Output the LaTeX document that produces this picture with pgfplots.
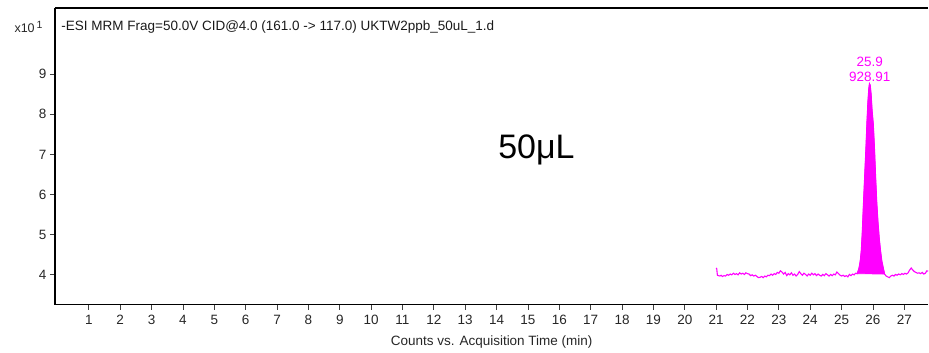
\documentclass[border=0pt]{standalone}
\usepackage{pgfplots}
\pgfplotsset{compat=1.18}
\usepackage{fontspec}
\setmainfont{Liberation Sans}
\definecolor{pk}{HTML}{FF00FF}
\begin{document}
\begin{tikzpicture}
\path (-55pt,-48pt) rectangle (874pt,305pt);
\begin{axis}[
  at={(0,0)}, anchor=south west,
  scale only axis, width=874pt, height=297pt,
  xmin=-0.08, xmax=27.765, ymin=3.254, ymax=10.65,
  axis x line*=bottom, axis y line*=left,
  axis line style={black, line width=1.4pt, -},
  xtick={1,...,27}, ytick={4,...,9},
  tick align=outside, major tick length=5pt,
  tick style={black!75, line width=0.8pt},
  /pgf/number format/assume math mode=true,
  ticklabel style={font=\fontsize{13.5}{15}\selectfont, text=black!85},
  xticklabel style={yshift=-2pt},
  xlabel={Counts vs. Acquisition Time (min)},
  xlabel style={font=\fontsize{13.5}{15}\selectfont, at={(0.5,0)}, yshift=-27pt, anchor=north, text=black!85},
  clip=true,
]
\addplot[draw=pk, fill=pk, line width=0.8pt] coordinates {
(25.50,4.03) (25.55,4.15) (25.57,4.22) (25.60,4.37) (25.63,4.6) (25.66,5.04) (25.70,5.8)
(25.74,6.5) (25.78,7.2) (25.81,7.8) (25.84,8.3) (25.87,8.65) (25.89,8.76) (25.91,8.73)
(25.94,8.5) (25.97,8.1) (26.01,7.75) (26.05,7.1) (26.08,6.5) (26.12,5.8) (26.16,5.3)
(26.20,4.9) (26.24,4.6) (26.28,4.35) (26.32,4.2) (26.37,4.02)
} -- cycle;
\addplot[pk, line width=1.1pt] coordinates {
(21.00,4.17) (21.02,4.15) (21.04,3.99) (21.08,3.98) (21.12,3.97) (21.16,3.99) (21.20,3.96)
(21.25,3.98) (21.30,3.97) (21.35,4.01) (21.40,3.99) (21.45,4.02) (21.50,4.00) (21.55,4.04)
(21.60,4.01) (21.65,4.03) (21.70,4.00) (21.75,4.05) (21.80,4.02) (21.85,4.04) (21.90,4.01)
(21.95,4.05) (22.00,4.03) (22.05,4.02) (22.10,3.98) (22.15,4.00) (22.20,3.97) (22.25,3.99)
(22.30,3.96) (22.35,3.93) (22.40,3.94) (22.45,3.96) (22.50,3.93) (22.55,3.97) (22.60,3.95)
(22.65,3.99) (22.70,3.98) (22.75,4.02) (22.80,3.99) (22.85,4.03) (22.90,4.01) (22.95,4.06)
(23.00,4.04) (23.05,4.10) (23.10,4.07) (23.15,4.02) (23.20,4.06) (23.25,3.98) (23.30,4.03)
(23.35,4.00) (23.40,4.05) (23.45,3.99) (23.50,4.02) (23.55,3.97) (23.60,4.01) (23.65,4.08)
(23.70,4.03) (23.75,3.99) (23.80,4.04) (23.85,4.01) (23.90,3.97) (23.95,4.02) (24.00,3.99)
(24.05,4.04) (24.10,4.00) (24.15,4.03) (24.20,3.98) (24.25,4.02) (24.30,3.99) (24.35,3.97)
(24.40,4.01) (24.45,3.98) (24.50,4.03) (24.55,4.00) (24.60,3.97) (24.65,4.01) (24.70,3.98)
(24.75,4.02) (24.80,4.00) (24.85,4.07) (24.90,4.03) (24.95,3.99) (25.00,3.97) (25.05,3.99)
(25.10,3.96) (25.15,3.98) (25.20,3.95) (25.25,4.01) (25.30,3.98) (25.35,4.02) (25.40,4.00)
(25.45,4.04) (25.50,4.03)
(25.55,4.15) (25.57,4.22) (25.60,4.37) (25.63,4.6) (25.66,5.04) (25.70,5.8)
(25.74,6.5) (25.78,7.2) (25.81,7.8) (25.84,8.3) (25.87,8.65) (25.89,8.76) (25.91,8.73)
(25.94,8.5) (25.97,8.1) (26.01,7.75) (26.05,7.1) (26.08,6.5) (26.12,5.8) (26.16,5.3)
(26.20,4.9) (26.24,4.6) (26.28,4.35) (26.32,4.2)
(26.37,4.02) (26.42,3.97) (26.47,3.95) (26.52,3.93) (26.57,3.97) (26.62,3.99) (26.67,3.97)
(26.72,4.01) (26.77,3.99) (26.82,4.02) (26.87,4.00) (26.92,4.03) (26.97,4.01) (27.02,4.04)
(27.07,4.02) (27.12,4.05) (27.17,4.12) (27.22,4.17) (27.27,4.12) (27.32,4.08) (27.37,4.06)
(27.42,4.04) (27.47,4.05) (27.52,4.03) (27.57,4.06) (27.62,4.02) (27.67,4.04) (27.72,4.10)
(27.76,4.09)
};
\node[font=\fontsize{13.5}{15}\selectfont, text=pk, inner sep=0pt]
  at (axis cs:25.9,9.30) {25.9};
\node[font=\fontsize{13.5}{15}\selectfont, text=pk, inner sep=0pt]
  at (axis cs:25.9,8.93) {928.91};
\node[font=\fontsize{34}{38}\selectfont] at (axis cs:15.27,7.11) {50μL};
\node[font=\fontsize{13.5}{15}\selectfont, anchor=west, text=black!90] at (rel axis cs:0,1) [yshift=-19pt, xshift=3pt] {-ESI MRM Frag=50.0V CID@4.0 (161.0 -> 117.0) UKTW2ppb\_50uL\_1.d};
\draw[black, line width=1.4pt] (rel axis cs:0,1) -- (rel axis cs:1,1);
\end{axis}
\node[font=\fontsize{12.5}{14}\selectfont, anchor=west, text=black!85] at (-44pt,278pt) {x10\,\raisebox{4pt}{\fontsize{10.5}{12}\selectfont 1}};
\end{tikzpicture}
\end{document}
